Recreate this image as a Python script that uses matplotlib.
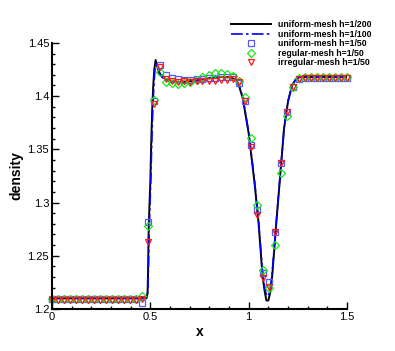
import numpy as np
import matplotlib.pyplot as plt

plt.rcParams['font.family'] = ['Liberation Sans', 'DejaVu Sans']

# reference solutions
x_200 = [0.0, 0.47, 0.48, 0.486, 0.489, 0.491, 0.495, 0.50, 0.505, 0.51, 0.515, 0.52, 0.527,
         0.535, 0.545, 0.56, 0.60, 0.65, 0.70, 0.75, 0.80, 0.85, 0.90, 0.93, 0.95, 0.97, 1.00,
         1.03, 1.05, 1.07, 1.08, 1.09, 1.10, 1.11, 1.12, 1.14, 1.16, 1.18, 1.20, 1.22, 1.24,
         1.26, 1.30, 1.40, 1.50]
rho_200 = [1.21, 1.21, 1.21, 1.215, 1.24, 1.27, 1.295, 1.32, 1.36, 1.39, 1.41, 1.425, 1.434,
           1.428, 1.422, 1.418, 1.414, 1.413, 1.414, 1.415, 1.417, 1.418, 1.418, 1.416, 1.410,
           1.398, 1.365, 1.318, 1.281, 1.232, 1.218, 1.208, 1.208, 1.216, 1.232, 1.28, 1.325,
           1.37, 1.395, 1.41, 1.416, 1.418, 1.418, 1.418, 1.418]

x_100 = [0.0, 0.47, 0.482, 0.488, 0.491, 0.494, 0.498, 0.503, 0.508, 0.513, 0.518, 0.523,
         0.53, 0.54, 0.55, 0.565, 0.60, 0.65, 0.70, 0.75, 0.80, 0.85, 0.90, 0.93, 0.95, 0.97,
         1.00, 1.03, 1.05, 1.07, 1.08, 1.09, 1.10, 1.11, 1.12, 1.14, 1.16, 1.18, 1.20, 1.22,
         1.24, 1.26, 1.30, 1.40, 1.50]
rho_100 = [1.21, 1.21, 1.211, 1.218, 1.245, 1.272, 1.297, 1.325, 1.362, 1.39, 1.41, 1.424,
           1.430, 1.426, 1.421, 1.417, 1.414, 1.413, 1.414, 1.415, 1.417, 1.418, 1.418, 1.416,
           1.411, 1.399, 1.366, 1.32, 1.283, 1.236, 1.222, 1.213, 1.212, 1.219, 1.235, 1.282,
           1.326, 1.37, 1.395, 1.41, 1.416, 1.418, 1.418, 1.418, 1.418]

# coarse mesh results (h=1/50)
x_50 = [0.000, 0.031, 0.061, 0.092, 0.122, 0.153, 0.184, 0.214, 0.245, 0.276,
        0.306, 0.337, 0.367, 0.398, 0.429, 0.459, 0.490, 0.520, 0.551, 0.582,
        0.612, 0.643, 0.673, 0.704, 0.735, 0.765, 0.796, 0.827, 0.857, 0.888,
        0.918, 0.949, 0.980, 1.010, 1.041, 1.071, 1.102, 1.133, 1.163, 1.194,
        1.224, 1.255, 1.286, 1.316, 1.347, 1.378, 1.408, 1.439, 1.469, 1.500]
rho_uniform = [1.209] * 15 + [
    1.2055, 1.282, 1.395, 1.429, 1.420, 1.417, 1.416, 1.4155, 1.4155, 1.416,
    1.416, 1.417, 1.4175, 1.418, 1.418, 1.418, 1.4125, 1.395, 1.354, 1.293,
    1.2335, 1.2257, 1.2727, 1.337, 1.3855, 1.409, 1.416] + [1.417] * 8
rho_regular = [1.2095] * 15 + [
    1.212, 1.278, 1.3964, 1.423, 1.4136, 1.4121, 1.4114, 1.412, 1.413, 1.415,
    1.418, 1.420, 1.4215, 1.4215, 1.421, 1.419, 1.414, 1.3995, 1.3604, 1.2977,
    1.2367, 1.2195, 1.260, 1.3275, 1.381, 1.409, 1.417] + [1.418] * 8
rho_irregular = [1.2085] * 15 + [
    1.209, 1.2633, 1.3927, 1.4278, 1.4159, 1.4146, 1.4137, 1.414, 1.4135, 1.414,
    1.414, 1.4145, 1.4145, 1.415, 1.4155, 1.416, 1.413, 1.395, 1.352, 1.288,
    1.2288, 1.221, 1.2727, 1.337, 1.3855, 1.409, 1.416] + [1.417] * 8

fig = plt.figure(figsize=(3.95, 3.51), dpi=100)
ax = fig.add_axes([0.1316, 0.1197, 0.747, 0.758])

ax.plot(x_200, rho_200, color='black', lw=1.4, label='uniform-mesh h=1/200')
ax.plot(x_100, rho_100, color='blue', lw=1.2, linestyle=(0, (7, 2, 1.5, 2)),
        label='uniform-mesh h=1/100')
ax.plot(x_50, rho_uniform, 's', ms=4.5, mfc='none', mec=(0.35, 0.35, 1.0), mew=0.9,
        ls='none', label='uniform-mesh h=1/50', clip_on=False)
ax.plot(x_50, rho_regular, 'D', ms=4.2, mfc='none', mec=(0.1, 0.9, 0.1), mew=0.9,
        ls='none', label='regular-mesh h=1/50', clip_on=False)
ax.plot(x_50, rho_irregular, 'v', ms=5, mfc='none', mec=(1.0, 0.1, 0.1), mew=0.9,
        ls='none', label='irregular-mesh h=1/50', clip_on=False)

ax.set_xlim(0, 1.5)
ax.set_ylim(1.2, 1.45)
ax.set_xticks([0, 0.5, 1, 1.5])
ax.set_xticklabels(['0', '0.5', '1', '1.5'])
ax.set_yticks([1.2, 1.25, 1.3, 1.35, 1.4, 1.45])
ax.set_yticklabels(['1.2', '1.25', '1.3', '1.35', '1.4', '1.45'])
ax.set_xticks(np.arange(0, 1.51, 0.1), minor=True)
ax.set_yticks(np.arange(1.2, 1.451, 0.01), minor=True)
ax.tick_params(which='both', direction='in', width=1.0, labelsize=8, pad=2)
ax.tick_params(which='major', length=5)
ax.tick_params(which='minor', length=2.5)
for s in ['top', 'right']:
    ax.spines[s].set_visible(False)
for s in ['left', 'bottom']:
    ax.spines[s].set_linewidth(1.5)

ax.set_xlabel('x', fontsize=10, fontweight='bold', labelpad=2)
ax.set_ylabel('density', fontsize=10, fontweight='bold', labelpad=3)

ax.legend(loc='upper right', bbox_to_anchor=(0.952, 0.955), bbox_transform=fig.transFigure,
          frameon=False, prop={'size': 6.3, 'weight': 'bold'}, handlelength=4.6,
          handletextpad=0.8, labelspacing=0.06, borderpad=0)

fig.savefig('out.png', dpi=100)
